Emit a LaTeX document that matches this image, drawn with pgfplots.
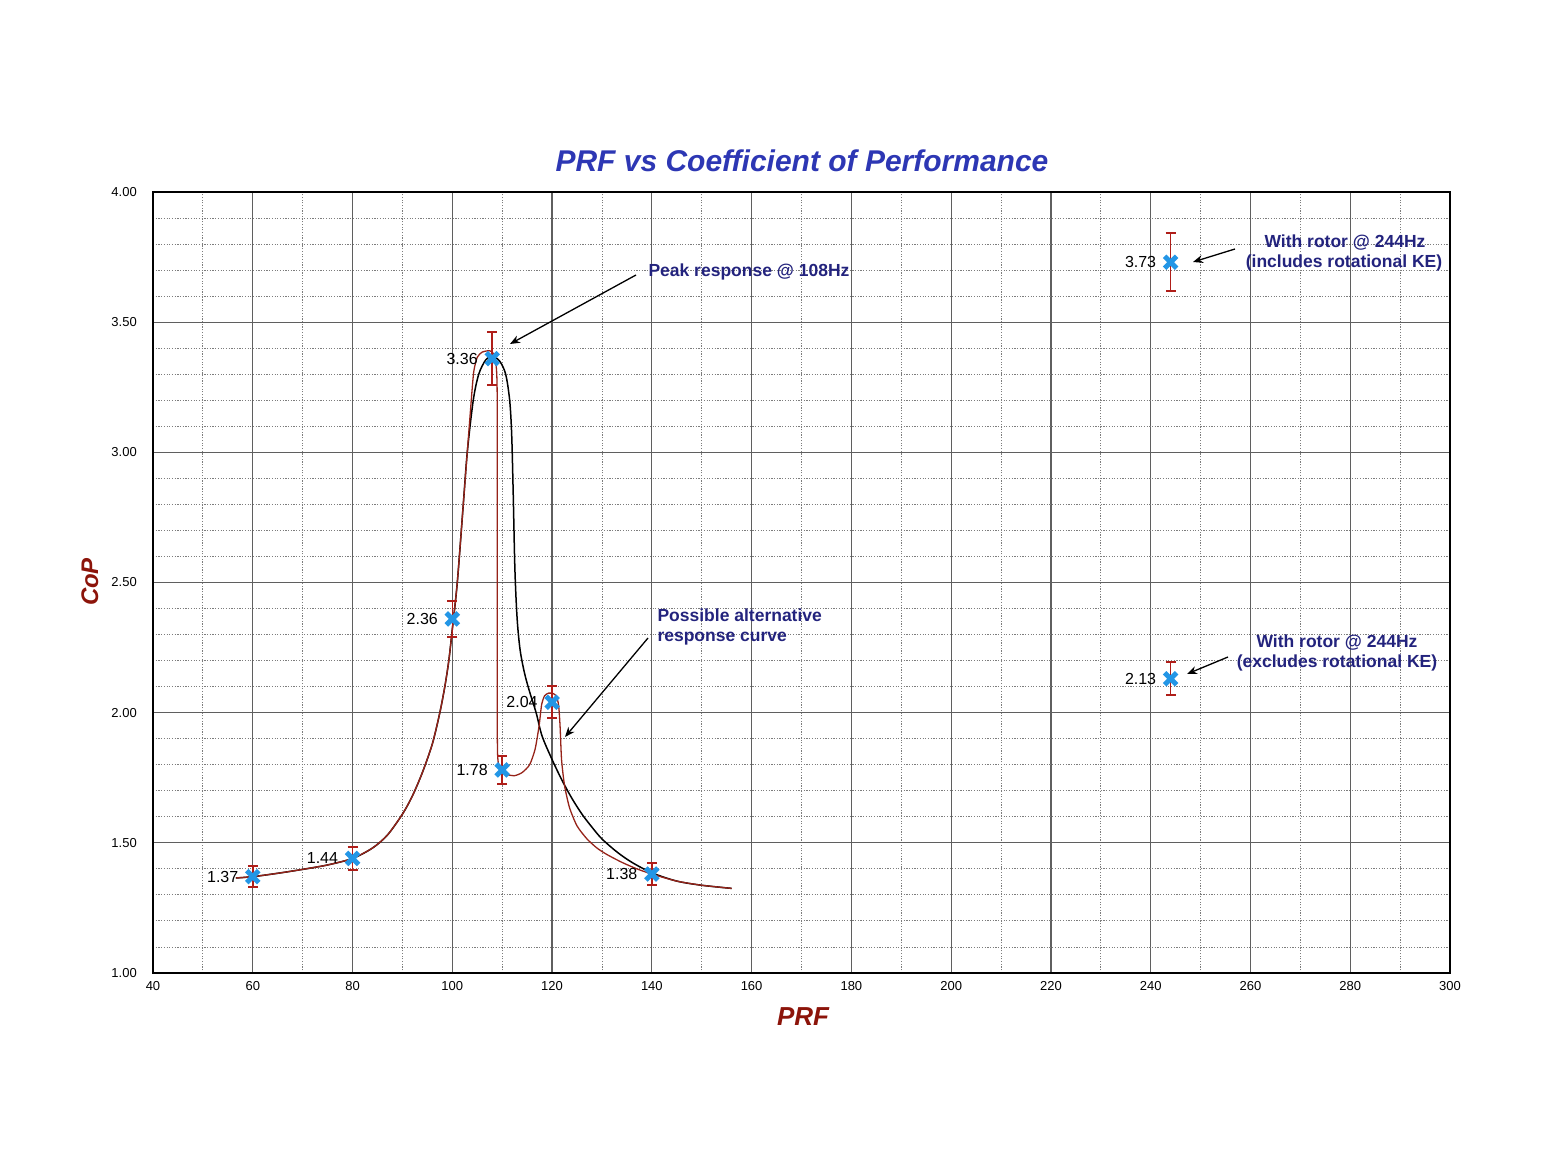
\documentclass[border=0pt]{standalone}
\usepackage{pgfplots}
\pgfplotsset{compat=1.18}
\usetikzlibrary{arrows.meta}
\usepackage{fontspec}
\setmainfont{Liberation Sans}
\definecolor{mkblue}{RGB}{35,150,230}
\definecolor{errred}{RGB}{175,30,25}
\definecolor{curvered}{RGB}{150,35,25}
\definecolor{titleblue}{RGB}{45,55,180}
\definecolor{labred}{RGB}{140,20,10}
\definecolor{navy}{RGB}{35,35,125}
\definecolor{gridmaj}{RGB}{95,95,95}
\definecolor{gridmin}{RGB}{125,125,125}

\pgfplotstableread{
x y e lab
60 1.37 0.03 1.37
80 1.44 0.03 1.44
100 2.36 0.03 2.36
108 3.36 0.03 3.36
110 1.78 0.03 1.78
120 2.04 0.03 2.04
140 1.38 0.03 1.38
244 3.73 0.03 3.73
244 2.13 0.03 2.13
}\pointdata

\begin{document}
\begin{tikzpicture}[x=1pt,y=1pt]
\path[use as bounding box] (0,0) rectangle (1551,1170);
\begin{axis}[
  at={(153pt,197pt)}, anchor=south west,
  scale only axis, width=1297pt, height=781pt,
  xmin=40, xmax=300, ymin=1, ymax=4,
  xtick distance=20, ytick distance=0.5,
  minor x tick num=1, minor y tick num=4,
  grid=both,
  major grid style={gridmaj, line width=1.2pt},
  minor grid style={gridmin, line width=0.9pt, dash pattern=on 1.2pt off 1.5pt},
  axis line style={black, line width=1.8pt},
  major tick length=0pt, minor tick length=0pt,
  tick label style={font=\fontsize{13}{15}\selectfont, /pgf/number format/assume math mode=true},
  x tick label style={inner sep=0pt, yshift=-8pt},
  y tick label style={inner sep=0pt, xshift=-16pt,
    /pgf/number format/fixed, /pgf/number format/fixed zerofill, /pgf/number format/precision=2},
  scaled ticks=false,
]
\addplot[black, line width=1.5pt, smooth, tension=0.5] coordinates {
(56.6,1.365) (60,1.37) (65,1.383) (70,1.398) (75,1.415) (80,1.44) (84,1.48) (87,1.53)
(90,1.61) (92,1.68) (94,1.77) (96,1.88) (97.5,2.0) (98.5,2.1) (99.3,2.2) (100,2.32)
(101,2.5) (102.2,2.8) (103,3.0) (104.2,3.2) (105.3,3.3) (106.7,3.355) (108,3.37)
(109.5,3.35) (110.7,3.3) (111.5,3.2) (111.9,3.07) (112.2,2.85) (112.55,2.55)
(113,2.36) (113.6,2.24) (114.5,2.15) (115.5,2.08) (116.8,2.0) (118,1.91) (120,1.82)
(122,1.74) (124,1.67) (126,1.61) (128,1.56) (130,1.515) (133,1.465) (136,1.425)
(140,1.385) (145,1.353) (150,1.337) (156,1.325)
};
\addplot[curvered, line width=1.3pt, smooth, tension=0.4] coordinates {
(56.6,1.365) (60,1.37) (65,1.383) (70,1.398) (75,1.415) (80,1.44) (84,1.48) (87,1.53)
(90,1.61) (92,1.68) (94,1.77) (96,1.88) (97.5,2.0) (98.5,2.1) (99.3,2.2) (100,2.32)
(101,2.5) (102.2,2.8) (103,3.0) (103.8,3.2) (104.3,3.31) (105,3.365) (106,3.385)
(107.5,3.39) (108.4,3.375) (108.85,3.32) (109,3.2) (109,2.6) (109,2.0) (109.1,1.83)
(109.5,1.785) (110,1.77) (111,1.762) (112.5,1.758) (114,1.77) (115.5,1.8) (116.6,1.86)
(117.4,1.95) (117.9,2.03) (118.5,2.065) (119.3,2.075) (120,2.075) (120.8,2.065)
(121.3,2.03) (121.6,1.95) (121.9,1.82) (122.5,1.72) (123.5,1.635) (125,1.565)
(127,1.515) (129,1.48) (131,1.455) (134,1.425) (137,1.40) (140,1.38) (145,1.353)
(150,1.337) (156,1.325)
};
\addplot[only marks, mark=x, mkblue, mark size=8.5pt, line width=5pt,
  error bars/y dir=both, error bars/y explicit relative,
  error bars/error bar style={errred, line width=1.6pt},
  error bars/error mark options={errred, line width=2pt, mark size=5pt, rotate=90},
  point meta=explicit symbolic,
  nodes near coords,
  nodes near coords style={anchor=east, inner sep=0pt, xshift=-12pt, text=black,
    font=\fontsize{16}{18}\selectfont},
] table[x=x, y=y, y error=e, meta=lab] {\pointdata};
\end{axis}
\node[anchor=base, font=\bfseries\itshape\fontsize{30}{34}\selectfont, text=titleblue] at (802,998) {PRF vs Coefficient of Performance};
\node[anchor=base, font=\bfseries\itshape\fontsize{26}{30}\selectfont, text=labred] at (803,144) {PRF};
\node[anchor=base, rotate=90, font=\bfseries\itshape\fontsize{24}{28}\selectfont, text=labred] at (98,588) {CoP};
\begin{scope}[font=\bfseries\fontsize{17.5}{20}\selectfont, text=navy]
\node[anchor=base west] at (645,893) {Peak response @ 108Hz};
\node[anchor=base west] at (654,548) {Possible alternative};
\node[anchor=base west] at (654,528) {response curve};
\node[anchor=base] at (1345,922) {With rotor @ 244Hz};
\node[anchor=base] at (1344,902) {(includes rotational KE)};
\node[anchor=base] at (1337,522) {With rotor @ 244Hz};
\node[anchor=base] at (1337,502) {(excludes rotational KE)};
\end{scope}
\begin{scope}[black, line width=1.3pt, -{Stealth[length=10pt, width=8pt]}]
\draw (636,895) -- (510,826);
\draw (648,532) -- (565,433);
\draw (1235,921) -- (1193,908);
\draw (1228,513) -- (1187,496);
\end{scope}
\end{tikzpicture}
\end{document}
